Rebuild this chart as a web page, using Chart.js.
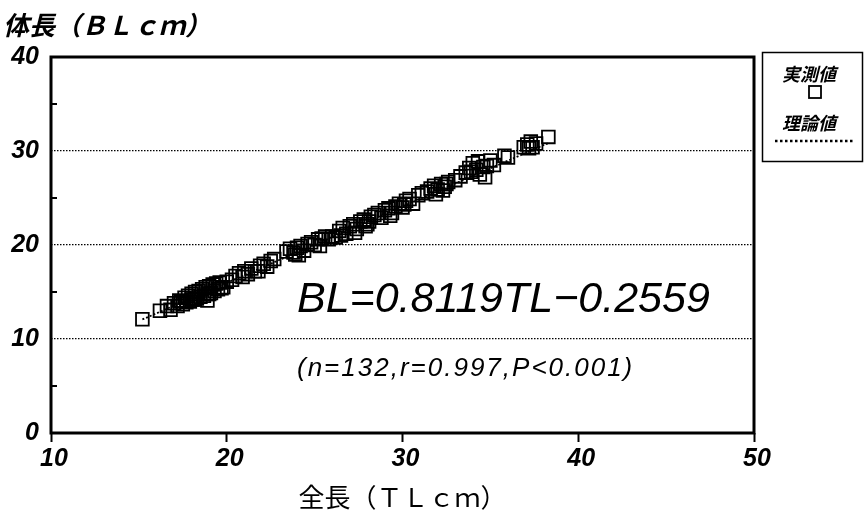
<!DOCTYPE html>
<html>
<head>
<meta charset="utf-8">
<script src="https://cdn.jsdelivr.net/npm/chart.js@4/dist/chart.umd.min.js"></script>
<style>
  html, body { margin: 0; padding: 0; background: #fff; }
  canvas { display: block; }
</style>
</head>
<body>
<canvas id="bl-tl-chart" width="864" height="513"></canvas>
<script>
// 全長 vs 体長 scatter with regression line
const measuredTL = [
  15.2, 16.2, 16.6, 16.8, 17.0, 17.2, 17.3, 17.5, 17.6, 17.7,
  17.8, 17.9, 18.0, 18.1, 18.2, 18.3, 18.4, 18.5, 18.6, 18.7,
  18.8, 18.9, 19.0, 19.1, 19.2, 19.3, 19.4, 19.5, 19.6, 19.8,
  20.0, 18.2, 18.9, 17.4, 18.0, 19.0, 20.5, 20.7, 20.9, 21.0,
  21.2, 21.4, 21.6, 21.9, 22.1, 22.3, 22.5, 22.7, 23.4, 23.6,
  23.8, 24.0, 24.2, 24.4, 24.6, 24.8, 25.0, 25.2, 25.4, 25.6,
  24.1, 25.3, 26.2, 26.4, 26.6, 26.8, 27.0, 27.2, 27.4, 27.6,
  27.8, 28.0, 28.2, 27.3, 28.4, 28.6, 28.8, 29.0, 29.2, 29.4,
  29.6, 29.8, 30.0, 30.2, 30.4, 30.6, 30.9, 31.1, 26.5, 27.9,
  29.3, 26.0, 31.4, 31.6, 31.8, 32.0, 32.2, 32.4, 32.6, 31.9,
  32.3, 33.0, 33.3, 33.6, 33.8, 34.0, 34.2, 34.4, 34.6, 34.3,
  33.9, 34.8, 35.0, 35.2, 34.7, 35.8, 36.0, 36.9, 37.1, 37.3,
  37.4, 37.6, 37.2, 38.3, 21.8, 20.3, 19.7, 23.9, 28.1, 30.1,
  32.5, 25.8
];
const measuredBL = [
  12.1, 13.0, 13.5, 13.1, 13.8, 13.5, 14.1, 13.7, 14.4, 13.9,
  14.6, 14.0, 14.8, 14.2, 15.0, 14.3, 15.1, 14.5, 15.3, 14.6,
  15.5, 14.8, 15.6, 14.9, 15.8, 15.1, 15.9, 15.3, 16.0, 15.5,
  16.1, 14.2, 14.1, 14.0, 14.2, 14.8, 16.7, 17.0, 16.6, 17.2,
  16.9, 17.5, 17.2, 17.8, 18.0, 17.7, 18.3, 18.5, 19.3, 19.6,
  19.2, 19.7, 19.9, 19.4, 20.1, 20.3, 20.0, 20.6, 20.7, 20.9,
  18.9, 19.9, 20.8, 21.5, 21.8, 21.2, 22.0, 22.2, 21.7, 22.5,
  22.7, 22.2, 23.0, 21.3, 23.2, 23.4, 22.9, 23.7, 23.9, 23.4,
  24.1, 24.4, 24.0, 24.7, 24.9, 24.4, 25.3, 25.5, 21.0, 22.0,
  23.1, 20.9, 25.7, 26.0, 26.3, 25.9, 26.5, 26.2, 26.7, 25.4,
  25.8, 26.9, 27.3, 27.7, 28.2, 28.7, 28.0, 27.5, 28.3, 28.9,
  27.8, 28.4, 29.0, 28.5, 27.2, 29.5, 29.3, 30.4, 30.7, 31.0,
  30.4, 30.8, 30.3, 31.5, 17.2, 16.3, 15.4, 19.0, 22.5, 24.3,
  26.5, 20.6
];
// 理論値 (regression line end points)
const fitTL = [15.2, 38.3];
const fitBL = [12.08, 30.84];

const gridValues = [10, 20, 30];
const minorTickValues = [5, 15, 25, 35];
const seriesLabels = ['実測値', '理論値'];
const equationText = 'BL=0.8119TL\u22120.2559';
const statsText = '(n=132,r=0.997,P<0.001)';
const yTitle = '体長（ＢＬｃｍ）';
const xTitle = '全長（ＴＬｃｍ）';

const NUM_FONT = '"Liberation Sans", Arial, sans-serif';
const JP_FONT = '"Noto Sans CJK JP", sans-serif';

const decorPlugin = {
  id: 'decor',
  afterDraw(chart) {
    const { ctx, chartArea: a, scales } = chart;
    ctx.save();

    // frame
    ctx.strokeStyle = '#000';
    ctx.lineWidth = 3;
    ctx.strokeRect(a.left, a.top, a.right - a.left, a.bottom - a.top);

    // minor inner ticks on y axis
    ctx.lineWidth = 2;
    minorTickValues.forEach((v) => {
      const y = scales.y.getPixelForValue(v);
      ctx.beginPath();
      ctx.moveTo(a.left, y);
      ctx.lineTo(a.left + 6, y);
      ctx.stroke();
    });

    // y axis title
    ctx.fillStyle = '#000';
    ctx.textBaseline = 'middle';
    ctx.textAlign = 'left';
    ctx.font = 'italic bold 26px ' + JP_FONT;
    ctx.fillText(yTitle, 3, 25);

    // equation + stats
    ctx.textBaseline = 'alphabetic';
    ctx.font = 'italic 43px ' + NUM_FONT;
    ctx.fillText(equationText, a.left + 246, a.top + 255);
    ctx.font = 'italic 26px ' + NUM_FONT;
    ctx.letterSpacing = '2px';
    ctx.fillText(statsText, a.left + 246, a.top + 319);
    ctx.letterSpacing = '0px';

    // legend box
    const lx = 762, ly = 52, lw = 100, lh = 109;
    ctx.lineWidth = 1.5;
    ctx.strokeRect(lx + 0.5, ly + 0.5, lw, lh);
    const ds = chart.data.datasets;
    ctx.textAlign = 'center';
    ctx.textBaseline = 'middle';
    ctx.font = 'italic bold 18px ' + JP_FONT;
    ctx.fillText(ds[0].label, lx + 47, ly + 22);
    ctx.lineWidth = 1.8;
    ctx.strokeRect(lx + 47, ly + 34, 12, 12);
    ctx.fillText(ds[1].label, lx + 47, ly + 71);
    ctx.lineWidth = 2.5;
    ctx.setLineDash([2.5, 2.5]);
    ctx.beginPath();
    ctx.moveTo(lx + 13, ly + 89);
    ctx.lineTo(lx + lw - 8, ly + 89);
    ctx.stroke();
    ctx.setLineDash([]);

    ctx.restore();
  }
};

new Chart(document.getElementById('bl-tl-chart'), {
  type: 'scatter',
  data: {
    datasets: [
      {
        label: seriesLabels[0],
        data: measuredTL.map((x, i) => ({ x, y: measuredBL[i] })),
        pointStyle: 'rect',
        pointRadius: 9,
        pointHoverRadius: 9,
        borderColor: '#000',
        borderWidth: 1.8,
        backgroundColor: 'rgba(0,0,0,0)',
        order: 1
      },
      {
        label: seriesLabels[1],
        type: 'line',
        data: fitTL.map((x, i) => ({ x, y: fitBL[i] })),
        showLine: true,
        borderColor: '#000',
        borderWidth: 1.8,
        borderDash: [2, 2],
        pointRadius: 0,
        fill: false,
        order: 2
      }
    ]
  },
  options: {
    responsive: false,
    animation: false,
    devicePixelRatio: 1,
    layout: { padding: { top: 57, right: 110, left: 0, bottom: 0 } },
    plugins: {
      legend: { display: false },
      tooltip: { enabled: false },
      title: { display: false }
    },
    scales: {
      x: {
        type: 'linear',
        min: 10,
        max: 50,
        afterFit(scale) { scale.height = 80; },
        ticks: {
          stepSize: 10,
          color: '#000',
          padding: 2,
          labelOffset: 3,
          font: { family: NUM_FONT, size: 25, style: 'italic', weight: 'bold' }
        },
        grid: {
          drawOnChartArea: false,
          drawTicks: true,
          tickLength: 9,
          tickColor: '#000',
          tickWidth: 2
        },
        border: { display: false },
        title: {
          display: true,
          text: xTitle,
          color: '#000',
          padding: { top: 0, bottom: 0 },
          font: { family: JP_FONT, size: 26 }
        }
      },
      y: {
        type: 'linear',
        min: 0,
        max: 40,
        afterFit(scale) { scale.width = 51; },
        ticks: {
          stepSize: 10,
          color: '#000',
          padding: 12,
          font: { family: NUM_FONT, size: 25, style: 'italic', weight: 'bold' }
        },
        grid: {
          drawTicks: false,
          lineWidth: 1.3,
          color: (c) => gridValues.includes(c.tick && c.tick.value) ? '#000' : 'rgba(0,0,0,0)'
        },
        border: { display: false, dash: [1.5, 1.5] }
      }
    }
  },
  plugins: [decorPlugin]
});
</script>
</body>
</html>
